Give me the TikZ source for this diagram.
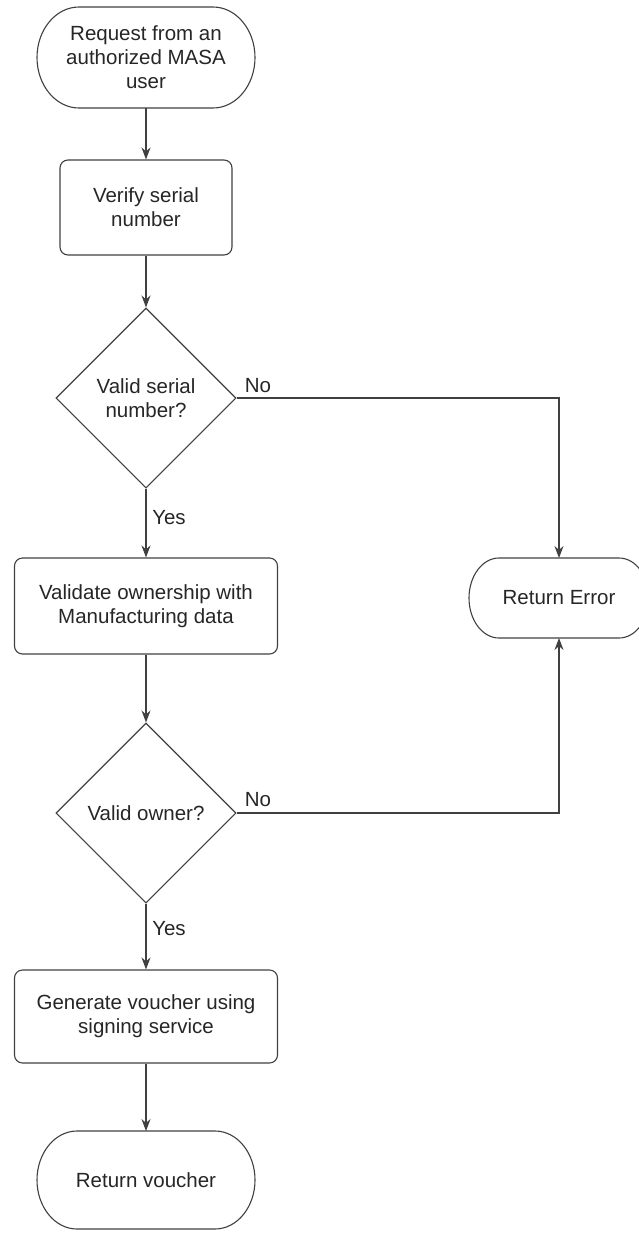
\documentclass[tikz,border=0pt]{standalone}
\usepackage{fontspec}
\setmainfont{Liberation Sans}
\usetikzlibrary{shapes.geometric,arrows.meta}
\begin{document}
\begin{tikzpicture}[x=1pt,y=-1pt,font=\fontsize{20.5}{24}\selectfont,
  every node/.style={text=black!85},
  line/.style={draw=black!75,line width=1.1pt},
  arr/.style={line,-{Stealth[length=12pt,width=9pt]}},
  term/.style={rectangle,align=center,inner sep=0pt,outer sep=0pt},
  proc/.style={line,rounded corners=8pt,align=center,inner sep=0pt},
  dec/.style={line,diamond,aspect=1,inner sep=0pt,minimum size=180pt,align=center}]
\useasboundingbox (0,0) rectangle (639,1235);
\clip (0,0) rectangle (639,1235);
\node[term,minimum width=218pt,minimum height=101pt] (req) at (146,57.5) {Request from an\\authorized MASA\\user};
\node[proc,minimum width=172pt,minimum height=95pt] (ver) at (146,207.5) {Verify serial\\number};
\node[dec] (serial) at (146,398) {Valid serial\\number?};
\node[proc,minimum width=263pt,minimum height=96pt] (own) at (146,606) {Validate ownership with\\Manufacturing data};
\node[dec] (owner) at (146,813) {Valid owner?};
\node[proc,minimum width=263pt,minimum height=93pt] (gen) at (146,1016.5) {Generate voucher using\\signing service};
\node[term,minimum width=218pt,minimum height=98pt] (voucher) at (146,1180) {Return voucher};
\node[term,minimum width=180pt,minimum height=80pt] (err) at (559,598) {Return Error};
\foreach \n/\b/\r in {req/42/50.5,voucher/40/49,err/30/40}
  \draw[line] ([xshift=\b pt]\n.north west) -- ([xshift=-\b pt]\n.north east)
    arc[start angle=90,end angle=-90,x radius=\b pt,y radius=\r pt]
    -- ([xshift=\b pt]\n.south west)
    arc[start angle=270,end angle=90,x radius=\b pt,y radius=\r pt] -- cycle;
\node (no1) at (258,386) {No};
\node (yes1) at (169,518) {Yes};
\node (no2) at (258,800) {No};
\node (yes2) at (169,929) {Yes};
\draw[arr] (req) -- (ver);
\draw[arr] (ver) -- (serial);
\draw[arr] (serial.east) -| (err.north);
\draw[arr] (serial) -- (own);
\draw[arr] (own) -- (owner);
\draw[arr] (owner.east) -| (err.south);
\draw[arr] (owner) -- (gen);
\draw[arr] (gen) -- (voucher);
\end{tikzpicture}
\end{document}
